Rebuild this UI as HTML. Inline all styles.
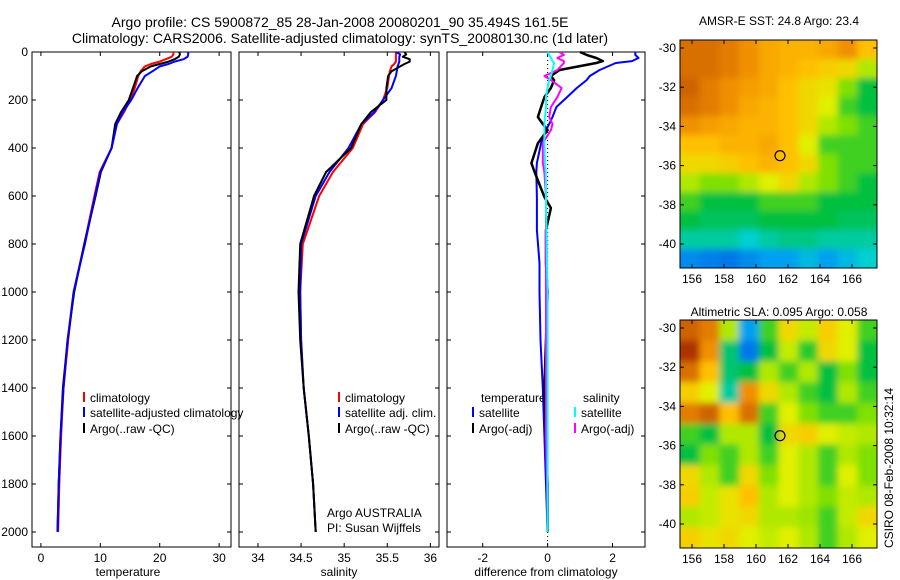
<!DOCTYPE html>
<html><head><meta charset="utf-8"><style>
body{margin:0;background:#fff;}
svg{display:block;font-family:"Liberation Sans",sans-serif;}
</style></head><body>
<svg id="c" width="900" height="580" viewBox="0 0 900 580">
<text x="340" y="27" font-size="14" text-anchor="middle">Argo profile: CS 5900872_85 28-Jan-2008 20080201_90 35.494S 161.5E</text>
<text x="340" y="43" font-size="14" text-anchor="middle">Climatology: CARS2006. Satellite-adjusted climatology: synTS_20080130.nc (1d later)</text>
<text x="128" y="576" font-size="12" text-anchor="middle">temperature</text>
<text x="339" y="576" font-size="12" text-anchor="middle">salinity</text>
<text x="546" y="576" font-size="12" text-anchor="middle">difference from climatology</text>
<text x="779" y="25" font-size="12" text-anchor="middle">AMSR-E SST: 24.8 Argo: 23.4</text>
<text x="779" y="316" font-size="12" text-anchor="middle">Altimetric SLA: 0.095 Argo: 0.058</text>
<text transform="translate(893,548) rotate(-90)" font-size="12">CSIRO 08-Feb-2008 10:32:14</text>
<text x="327" y="517" font-size="12">Argo AUSTRALIA</text>
<text x="327" y="532" font-size="12">PI: Susan Wijffels</text>
<g id="g"></g>
</svg>
<script>
const depths=[0,10,20,30,40,50,60,80,100,150,200,250,300,400,500,600,800,1000,1200,1400,1600,1800,2000];
const tempClim=[22.3,22.3,22,21,20,18.5,17.5,16.8,16.4,15.8,15,14,12.8,11.9,9.9,9,7.3,5.5,4.6,3.8,3.4,3.1,2.9];
const tempArgo=[23.3,23.4,23.2,22.5,21.5,20,18.5,17,16.2,15.5,14.8,13.5,12.5,11.9,10.1,9.2,7.3,5.6,4.5,3.7,3.3,3.0,2.8];
const tempSat=[24.8,24.8,24.7,24,22.5,21.5,20,18.8,17.5,16.3,15.2,13.8,12.8,11.9,10,9.1,7.4,5.5,4.5,3.8,3.3,3.0,2.8];
const salClim=[35.6,35.6,35.6,35.6,35.6,35.58,35.55,35.53,35.52,35.5,35.45,35.36,35.22,35.1,34.87,34.71,34.52,34.49,34.5,34.53,34.59,34.64,34.67];
const salArgo=[35.7,35.72,35.68,35.76,35.76,35.7,35.65,35.55,35.51,35.49,35.49,35.31,35.2,35.08,34.79,34.65,34.49,34.47,34.49,34.53,34.59,34.64,34.67];
const salSat=[35.6,35.65,35.64,35.64,35.64,35.63,35.62,35.61,35.6,35.55,35.45,35.35,35.2,35.05,34.83,34.67,34.5,34.49,34.5,34.53,34.59,34.64,34.67];
const ddepths=[0,12,25,38,46,75,100,117,150,188,229,271,300,325,380,463,500,604,650,742,880,1000,1200,1400,1600,1800,2000];
const dTempSat=[2.7,2.7,2.8,2.6,2.1,1.6,1.3,1.2,0.9,0.6,0.27,0.15,0.05,-0.05,-0.2,-0.33,-0.35,-0.33,-0.33,-0.33,-0.25,-0.25,-0.22,-0.15,-0.1,-0.05,0];
const dTempArgo=[1.0,1.2,1.5,1.7,1.5,0.37,0.1,0.2,0.1,-0.1,-0.2,-0.3,-0.15,0.0,-0.3,-0.5,-0.4,-0.1,0.1,-0.05,-0.05,0,-0.05,-0.1,-0.05,0,0];
const dSalSat=[0,0.05,0.1,0.15,0.2,0.15,0.1,0.05,0,-0.05,-0.05,-0.08,-0.1,-0.1,-0.1,-0.08,-0.06,-0.05,-0.05,-0.03,-0.02,0,0,0,0,0,0];
const dSalArgo=[0.37,0.5,0.3,0.5,0.5,0.3,-0.1,0.1,0.43,0.3,0.1,0.05,0.15,0.1,-0.15,-0.15,-0.1,-0.05,-0.05,-0.05,-0.05,-0.05,-0.05,-0.05,-0.05,-0.02,0];
const depthTicks=[0,200,400,600,800,1000,1200,1400,1600,1800,2000];
const tempTicks=[0,10,20,30];
const salTicks=[34,34.5,35,35.5,36];
const salTickLabels=["34","34.5","35","35.5","36"];
const diffTicks=[-2,0,2];
const lonTicks=[156,158,160,162,164,166];
const latTicks=[-30,-32,-34,-36,-38,-40];
const sstGrid=[
[.9,.9,.88,.85,.8,.78,.78,.8,.85,.75],
[.9,.9,.88,.85,.8,.78,.75,.72,.7,.6],
[.92,.88,.85,.82,.8,.75,.7,.68,.55,.45],
[.9,.88,.85,.8,.78,.75,.7,.65,.5,.45],
[.85,.82,.8,.78,.78,.75,.7,.6,.55,.5],
[.75,.75,.78,.78,.8,.75,.65,.5,.5,.5],
[.7,.7,.72,.75,.78,.75,.7,.55,.5,.5],
[.6,.55,.55,.6,.65,.7,.6,.55,.5,.45],
[.5,.45,.45,.45,.5,.5,.5,.45,.45,.45],
[.45,.42,.42,.42,.45,.45,.45,.45,.42,.42],
[.35,.35,.35,.3,.35,.38,.38,.35,.35,.35],
[.15,.12,.1,.15,.2,.2,.25,.2,.25,.3]];
const slaGrid=[
[.92,.88,.6,.2,.5,.7,.62,.72,.65,.5],
[.98,.85,.4,.1,.45,.62,.48,.7,.65,.45],
[.9,.75,.4,.45,.6,.5,.6,.45,.55,.45],
[.72,.65,.35,.85,.7,.6,.5,.45,.6,.5],
[.88,.92,.75,.9,.5,.65,.55,.5,.5,.55],
[.5,.45,.6,.6,.45,.7,.72,.65,.62,.6],
[.45,.55,.5,.6,.5,.65,.6,.5,.6,.55],
[.7,.6,.5,.7,.55,.65,.6,.5,.65,.55],
[.72,.62,.68,.75,.6,.65,.6,.55,.62,.6],
[.6,.62,.68,.7,.6,.6,.58,.5,.62,.7],
[.72,.68,.7,.65,.62,.65,.6,.5,.6,.65]];
const argoLon=161.5, argoLat=-35.494;

const NS="http://www.w3.org/2000/svg";
const G=document.getElementById('g');
function mk(t,a,p){const e=document.createElementNS(NS,t);for(const k in a)e.setAttribute(k,a[k]);(p||G).appendChild(e);return e;}
const yD=d=>52+d*0.24;
const panels=[
 {x0:32,x1:231,lo:-1.5,hi:32,ticks:tempTicks,labels:tempTicks.map(String),name:'temperature'},
 {x0:239,x1:439,lo:33.78,hi:36.1,ticks:salTicks,labels:salTickLabels,name:'salinity'},
 {x0:447,x1:645,lo:-3.1,hi:3.0,ticks:diffTicks,labels:diffTicks.map(String),name:'difference'}];
panels.forEach((p,i)=>{p.sx=v=>p.x0+(v-p.lo)/(p.hi-p.lo)*(p.x1-p.x0);});
panels.forEach((p,i)=>{
 const r=mk('rect',{x:p.x0,y:52,width:p.x1-p.x0,height:495,fill:'none',stroke:'#000','stroke-width':1});
 
 
 p.ticks.forEach((t,j)=>{const x=p.sx(t);
  mk('line',{x1:x,x2:x,y1:52,y2:56,stroke:'#000'});mk('line',{x1:x,x2:x,y1:547,y2:543,stroke:'#000'});
  const tx=mk('text',{x:x,y:562,'font-size':12,'text-anchor':'middle'});tx.textContent=p.labels[j];
  
  });
 depthTicks.forEach(d=>{const y=yD(d);
  mk('line',{x1:p.x0,x2:p.x0+4,y1:y,y2:y,stroke:'#000'});mk('line',{x1:p.x1,x2:p.x1-4,y1:y,y2:y,stroke:'#000'});
  if(i==0){const tx=mk('text',{x:28,y:y+4,'font-size':12,'text-anchor':'end'});tx.textContent=d;
   
   }});
});
const zl=mk('line',{x1:panels[2].sx(0),x2:panels[2].sx(0),y1:52,y2:547,stroke:'#000','stroke-dasharray':'1,3'});


function line(p,xs,ds,col,name,w){
 const pts=xs.map((v,k)=>p.sx(v).toFixed(1)+','+yD(ds[k]).toFixed(1)).join(' ');
 const e=mk('polyline',{points:pts,fill:'none',stroke:col,'stroke-width':w||2,'stroke-linejoin':'round'});
 
 }
line(panels[0],tempClim,depths,'#f00','temperature-climatology-line');
line(panels[0],tempArgo,depths,'#000','temperature-argo-line');
line(panels[0],tempSat,depths,'#00f','temperature-satellite-line');
line(panels[1],salClim,depths,'#f00','salinity-climatology-line');
line(panels[1],salSat,depths,'#00f','salinity-satellite-line');
line(panels[1],salArgo,depths,'#000','salinity-argo-line');
line(panels[2],dTempSat,ddepths,'#00f','diff-temperature-satellite-line');
line(panels[2],dTempArgo,ddepths,'#000','diff-temperature-argo-line',2.5);
line(panels[2],dSalArgo,ddepths,'#f0f','diff-salinity-argo-line');
line(panels[2],dSalSat,ddepths,'#0ff','diff-salinity-satellite-line');
function leg(x,y,col,txt,name){
 if(col){const m=mk('line',{x1:x,x2:x,y1:y-10,y2:y,stroke:col,'stroke-width':2});
  
  }
 const t=mk('text',{x:x+6,y:y,'font-size':12});t.textContent=txt;
 
 }
leg(84,402,'#f00','climatology','legend-climatology');
leg(84,417,'#00f','satellite-adjusted climatology','legend-satellite-adjusted');
leg(84,433,'#000','Argo(..raw -QC)','legend-argo');
leg(339,402,'#f00','climatology','legend2-climatology');
leg(339,417,'#00f','satellite adj. clim.','legend2-satellite');
leg(339,433,'#000','Argo(..raw -QC)','legend2-argo');
leg(475,402,null,'temperature','legend3-temperature-header');
leg(577,402,null,'salinity','legend3-salinity-header');
leg(473,417,'#00f','satellite','legend3-temp-satellite');
leg(473,433,'#000','Argo(-adj)','legend3-temp-argo');
leg(575,417,'#0ff','satellite','legend3-sal-satellite');
leg(575,433,'#f0f','Argo(-adj)','legend3-sal-argo');
const stops=[[0,[0,80,224]],[.2,[0,160,240]],[.3,[0,208,208]],[.45,[0,192,64]],[.55,[128,224,0]],[.65,[224,240,0]],[.75,[255,192,0]],[.85,[240,144,0]],[.95,[192,80,0]],[1,[160,32,0]]];
function cmap(v){for(let i=1;i<stops.length;i++){if(v<=stops[i][0]){const a=stops[i-1],b=stops[i],f=(v-a[0])/(b[0]-a[0]);return 'rgb('+a[1].map((c,k)=>Math.round(c+(b[1][k]-c)*f)).join(',')+')';}}return 'rgb(160,32,0)';}
const defs=mk('defs',{});
function map(y0,grid,name){
 const x0=680,x1=877,y1=y0+228;
 const lx=lon=>692+(lon-156)*16, ly=lat=>y0+8+(-30-lat)*19.6;
 const cp=mk('clipPath',{id:'cp'+name},defs);mk('rect',{x:x0,y:y0,width:x1-x0,height:228},cp);
 const f=mk('filter',{id:'bl'+name,x:'-10%',y:'-10%',width:'120%',height:'120%'},defs);mk('feGaussianBlur',{stdDeviation:3.5},f);
 const g=mk('g',{'clip-path':'url(#cp'+name+')'});
 
 
 const gi=mk('g',{filter:'url(#bl'+name+')'},g);
 const rows=grid.length,cols=grid[0].length,cw=(x1-x0)/cols,ch=228/rows;
 mk('rect',{x:x0-20,y:y0-20,width:x1-x0+40,height:268,fill:cmap(grid[rows>>1][cols>>1])},gi);
 grid.forEach((row,r)=>row.forEach((v,c)=>{mk('rect',{x:x0+c*cw-(c==0?20:0),y:y0+r*ch-(r==0?20:0),width:cw+(c==0||c==cols-1?20:0)+0.5,height:ch+(r==0||r==rows-1?20:0)+0.5,fill:cmap(v)},gi);}));
 const fr=mk('rect',{x:x0,y:y0,width:x1-x0,height:228,fill:'none',stroke:'#000'});
 
 
 lonTicks.forEach(l=>{const x=lx(l);mk('line',{x1:x,x2:x,y1:y1,y2:y1-4,stroke:'#000'});mk('line',{x1:x,x2:x,y1:y0,y2:y0+4,stroke:'#000'});
  const t=mk('text',{x:x,y:y1+15,'font-size':12,'text-anchor':'middle'});t.textContent=l;
  
  });
 latTicks.forEach(l=>{const y=ly(l);mk('line',{x1:x0,x2:x0+4,y1:y,y2:y,stroke:'#000'});mk('line',{x1:x1,x2:x1-4,y1:y,y2:y,stroke:'#000'});
  const t=mk('text',{x:676,y:y+4,'font-size':12,'text-anchor':'end'});t.textContent=l;
  
  });
 const m=mk('circle',{cx:lx(argoLon),cy:ly(argoLat),r:5,fill:'none',stroke:'#000','stroke-width':1.2});
 
 
}
map(40,sstGrid,'sst');
map(320,slaGrid,'sla');
</script>
</body></html>
